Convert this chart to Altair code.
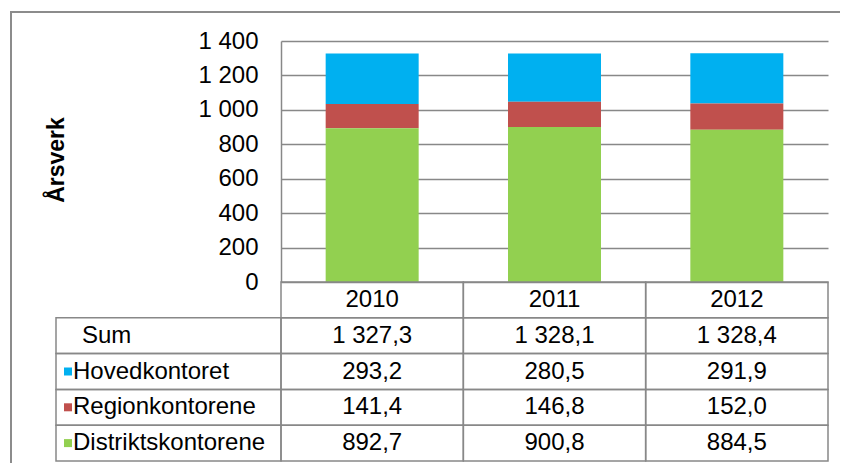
import altair as alt
import pandas as pd

years = ["2010", "2011", "2012"]
categories = ["Hovedkontoret", "Regionkontorene", "Distriktskontorene"]
hoved = [293.2, 280.5, 291.9]
region = [141.4, 146.8, 152.0]
distrikt = [892.7, 900.8, 884.5]
sums = [1327.3, 1328.1, 1328.4]
colors = ["#00B0F0", "#C0504D", "#92D050"]
row_names = ["hdr", "Sum", "Hovedkontoret", "Regionkontorene", "Distriktskontorene"]
y_title = ["Årsverk"]

FONT = "Liberation Sans"
GRID = "#888888"
FS = 24


def nfmt(v):
    return f"{v:,.1f}".replace(",", " ").replace(".", ",")


series = {"Hovedkontoret": hoved, "Regionkontorene": region, "Distriktskontorene": distrikt}
stack_order = {"Distriktskontorene": 0, "Regionkontorene": 1, "Hovedkontoret": 2}

bar_rows = []
for cat in categories:
    for y, v in zip(years, series[cat]):
        bar_rows.append({"year": y, "cat": cat, "value": v, "ord": stack_order[cat]})
bars_df = pd.DataFrame(bar_rows)

cell_rows = []
for y in years:
    cell_rows.append({"year": y, "row": "hdr", "label": y})
for y, s in zip(years, sums):
    cell_rows.append({"year": y, "row": "Sum", "label": nfmt(s)})
for cat in categories:
    for y, v in zip(years, series[cat]):
        cell_rows.append({"year": y, "row": cat, "label": nfmt(v)})
cells_df = pd.DataFrame(cell_rows)

left_df = pd.DataFrame({"row": row_names[1:], "label": ["Sum"] + categories})
legend_df = pd.DataFrame({"row": categories, "cat": categories})

W, H = 547, 241
xscale = alt.Scale(domain=years, paddingInner=0, paddingOuter=0)
row_scale = alt.Scale(domain=row_names, range=[241, 420], paddingInner=0, paddingOuter=0)
color_scale = alt.Scale(domain=categories, range=colors)

border = alt.Chart(pd.DataFrame({"a": [0]})).mark_rect(
    fill="white", fillOpacity=0, stroke="#8c8c8c", strokeWidth=2
).encode(
    x=alt.value(-270), x2=alt.value(700), y=alt.value(-29), y2=alt.value(600)
)

title = alt.Chart(pd.DataFrame({"t": y_title})).mark_text(
    font=FONT, fontSize=23, fontWeight="bold", color="black",
    angle=270, align="center", baseline="middle"
).encode(x=alt.value(-224), y=alt.value(119), text="t:N")

bars = alt.Chart(bars_df).mark_bar(size=93).encode(
    x=alt.X("year:N", scale=xscale, axis=None),
    y=alt.Y(
        "value:Q",
        stack="zero",
        scale=alt.Scale(domain=[0, 1400], nice=False, zero=True),
        axis=alt.Axis(
            values=list(range(0, 1401, 200)),
            labelExpr="replace(format(datum.value, ','), ',', ' ')",
            grid=True,
            gridColor=GRID,
            gridWidth=1.5,
            domain=True,
            domainColor=GRID,
            domainWidth=1.5,
            ticks=False,
            labelFont=FONT,
            labelFontSize=FS,
            labelColor="black",
            labelPadding=23,
            title=None,
        ),
    ),
    color=alt.Color("cat:N", scale=color_scale, legend=None),
    order=alt.Order("ord:Q", sort="ascending"),
)

cells = alt.Chart(cells_df).mark_rect(
    fill="white", fillOpacity=0, stroke=GRID, strokeWidth=1.5
).encode(
    x=alt.X("year:N", scale=xscale, axis=None),
    y=alt.Y("row:N", scale=row_scale, axis=None),
)

left_cells = alt.Chart(left_df).mark_rect(
    fill="white", fillOpacity=0, stroke=GRID, strokeWidth=1.5
).encode(
    x=alt.value(-225), x2=alt.value(0),
    y=alt.Y("row:N", scale=row_scale, axis=None),
)

cell_text = alt.Chart(cells_df).mark_text(
    font=FONT, fontSize=FS, color="black", baseline="middle", align="center"
).encode(
    x=alt.X("year:N", scale=xscale, axis=None),
    y=alt.Y("row:N", scale=row_scale, axis=None),
    text="label:N",
)

sum_text = alt.Chart(left_df[left_df["row"] == "Sum"]).mark_text(
    font=FONT, fontSize=FS, color="black", baseline="middle", align="left"
).encode(
    x=alt.value(-199),
    y=alt.Y("row:N", scale=row_scale, axis=None),
    text="label:N",
)

cat_text = alt.Chart(left_df[left_df["row"] != "Sum"]).mark_text(
    font=FONT, fontSize=FS, color="black", baseline="middle", align="left"
).encode(
    x=alt.value(-208),
    y=alt.Y("row:N", scale=row_scale, axis=None),
    text="label:N",
)

squares = alt.Chart(legend_df).mark_square(size=64, opacity=1).encode(
    x=alt.value(-213),
    y=alt.Y("row:N", scale=row_scale, axis=None),
    color=alt.Color("cat:N", scale=color_scale, legend=None),
)

chart = alt.layer(
    border, title, bars, cells, left_cells, cell_text, sum_text, cat_text, squares
).resolve_scale(y="independent").properties(
    width=W,
    height=H,
    autosize=alt.AutoSizeParams(type="none"),
    padding={"left": 273, "top": 33, "right": 12, "bottom": 181},
    background="white",
).configure_view(stroke=None)

chart.save("out.html", embed_options={"renderer": "svg", "actions": False})
